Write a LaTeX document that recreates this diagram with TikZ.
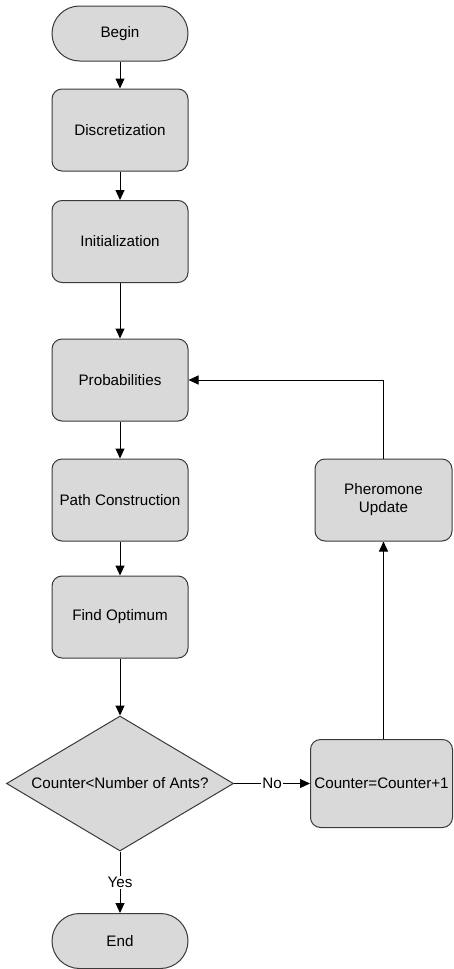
\documentclass[tikz,border=0pt]{standalone}
\usepackage{fontspec}
\setmainfont{Liberation Sans}
\usetikzlibrary{shapes.geometric,arrows.meta}
\definecolor{boxfill}{HTML}{D9D9D9}
\definecolor{boxline}{HTML}{3A3A3A}
\tikzset{
  base/.style={draw=boxline, fill=boxfill, line width=1pt, inner sep=0pt, font=\fontsize{15.2}{18}\selectfont, text=black},
  proc/.style={base, rectangle, rounded corners=10pt, minimum width=136pt, minimum height=82pt, align=center},
  term/.style={base, rectangle, rounded corners=27.5pt, minimum width=136pt, minimum height=55pt},
  decide/.style={base, diamond, shape aspect=1.68, minimum width=227pt, minimum height=135pt},
  conn/.style={draw=black, line width=1pt, -{Triangle[length=10pt,width=9pt]}},
  lbl/.style={fill=white, inner sep=1pt, font=\fontsize{15.2}{18}\selectfont}
}
\begin{document}
\begin{tikzpicture}[x=1pt,y=-1pt]
\useasboundingbox (0,0) rectangle (453,969);
\node[term] (begin) at (120,33.5) {Begin};
\node[proc] (disc) at (120,130) {Discretization};
\node[proc] (init) at (120,241.5) {Initialization};
\node[proc] (prob) at (120,380) {Probabilities};
\node[proc] (path) at (120,500) {Path Construction};
\node[proc] (find) at (120,617) {Find Optimum};
\node[decide] (dec) at (120,783.5) {Counter<Number of Ants?};
\node[proc, minimum width=142pt, minimum height=88pt] (ctr) at (381.5,783.5) {Counter=Counter+1};
\node[proc, minimum width=137pt] (pher) at (383.5,500) {Pheromone\\Update};
\node[term] (end) at (120,941) {End};
\coordinate (turn) at (pher.north |- prob.east);
\draw[conn] (begin) -- (disc);
\draw[conn] (disc) -- (init);
\draw[conn] (init) -- (prob);
\draw[conn] (prob) -- (path);
\draw[conn] (path) -- (find);
\draw[conn] (find) -- (dec);
\draw[conn] (dec) -- node[lbl] {Yes} (end);
\draw[conn] (dec) -- node[lbl] {No} (ctr);
\draw[conn] (ctr.north -| pher.south) -- (pher.south);
\draw[conn] (pher.north) -- (turn) -- (prob.east);
\end{tikzpicture}
\end{document}
